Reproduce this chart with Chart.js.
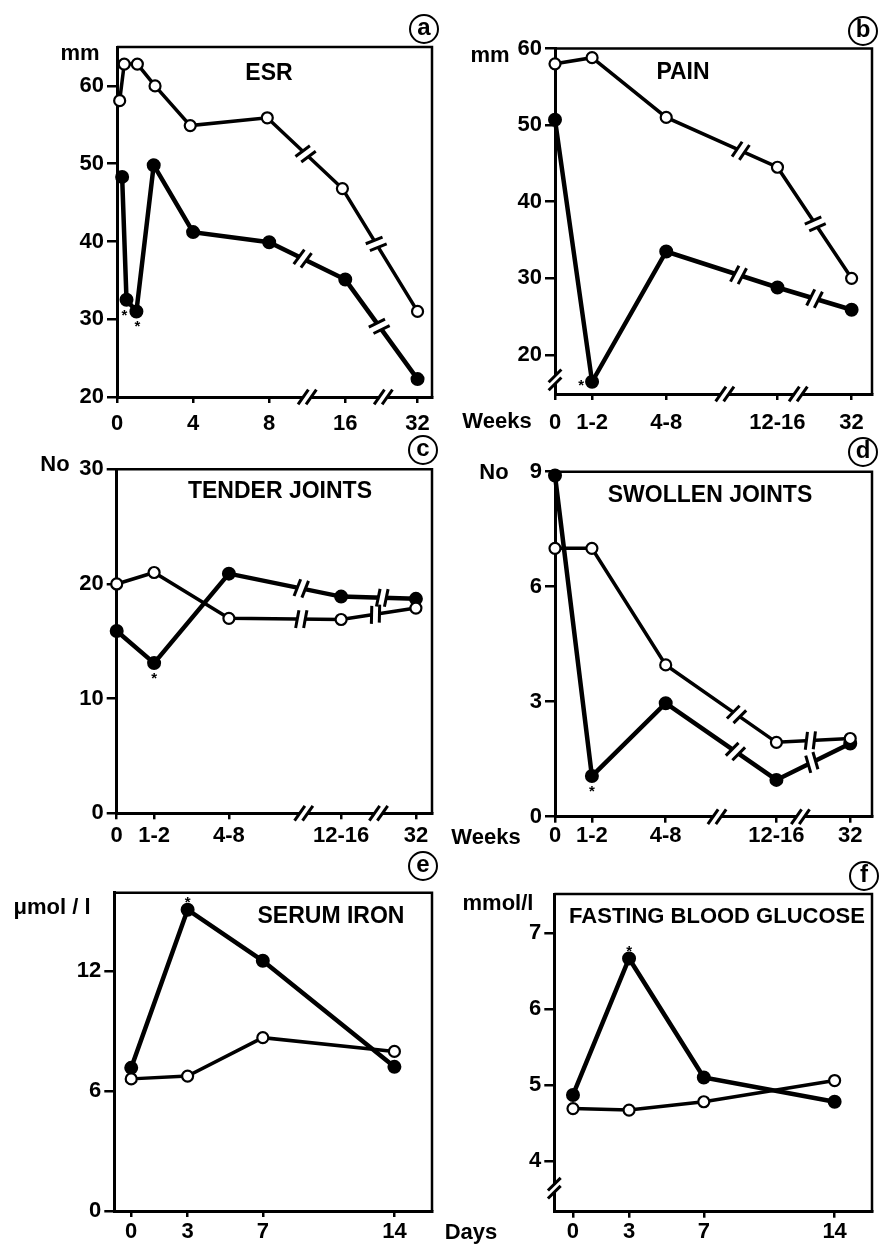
<!DOCTYPE html>
<html>
<head>
<meta charset="utf-8">
<script src="https://cdn.jsdelivr.net/npm/chart.js@4.4.1/dist/chart.umd.min.js"></script>
<style>
  body { margin: 0; background: #fff; width: 880px; height: 1246px; position: relative; overflow: hidden;
         font-family: "Liberation Sans", Arial, sans-serif; font-weight: bold; color: #000; }
  canvas { position: absolute; }
  .t { position: absolute; font-size: 22px; line-height: 22px; white-space: nowrap; transform: translate(-50%, -50%); }
  .h { font-size: 23px; }
  .c { position: absolute; width: 26px; height: 26px; border: 2px solid #000; border-radius: 50%;
       font-size: 24px; line-height: 22px; text-align: center; transform: translate(-50%, -50%); }
</style>
</head>
<body>
<canvas id="a"></canvas><canvas id="b"></canvas>
<canvas id="c"></canvas><canvas id="d"></canvas>
<canvas id="e"></canvas><canvas id="f"></canvas>

<div class="t h" style="left:269px;top:72px">ESR</div>
<div class="t h" style="left:683px;top:71px">PAIN</div>
<div class="t h" style="left:280px;top:490px">TENDER JOINTS</div>
<div class="t h" style="left:710px;top:494px">SWOLLEN JOINTS</div>
<div class="t h" style="left:331px;top:915px">SERUM IRON</div>
<div class="t" style="left:717px;top:916px">FASTING BLOOD GLUCOSE</div>

<div class="t" style="left:80px;top:53px">mm</div>
<div class="t" style="left:490px;top:55px">mm</div>
<div class="t" style="left:55px;top:464px">No</div>
<div class="t" style="left:494px;top:472px">No</div>
<div class="t" style="left:52px;top:907px">μmol / l</div>
<div class="t" style="left:498px;top:903px">mmol/l</div>

<div class="t" style="left:497px;top:421px">Weeks</div>
<div class="t" style="left:486px;top:837px">Weeks</div>
<div class="t" style="left:471px;top:1232px">Days</div>

<div class="c" style="left:424px;top:29px">a</div>
<div class="c" style="left:863px;top:31px">b</div>
<div class="c" style="left:423px;top:450px">c</div>
<div class="c" style="left:863px;top:452px">d</div>
<div class="c" style="left:423px;top:866px">e</div>
<div class="c" style="left:864px;top:876px">f</div>

<script>
// ESR, weeks
const esrWeekTicks = [0, 4, 8, 16, 32];
const esrOpenWeeks = [0.14, 0.38, 1.07, 2, 3.85, 7.9, 15.7, 32];
const esrOpen = [58.1, 62.8, 62.8, 60, 54.9, 55.9, 46.8, 31];
const esrFilledWeeks = [0.27, 0.5, 1.02, 1.93, 4, 8, 16, 32];
const esrFilled = [48.3, 32.5, 31, 49.8, 41.2, 39.9, 35.1, 22.3];
const esrTicks = [20, 30, 40, 50, 60];

// pain / tender / swollen, weeks categories
const weekCats = ['0', '1-2', '4-8', '12-16', '32'];
const painOpen = [58, 58.8, 51, 44.5, 30];
const painFilled = [50.7, 16.5, 33.5, 28.8, 25.9];
const painTicks = [20, 30, 40, 50, 60];
const tenderOpen = [20, 21, 17, 16.9, 17.9];
const tenderFilled = [15.9, 13.1, 20.9, 18.9, 18.7];
const tenderTicks = [0, 10, 20, 30];
const swollenOpen = [7, 7, 3.96, 1.94, 2.04];
const swollenFilled = [8.9, 1.06, 2.96, 0.96, 1.91];
const swollenTicks = [0, 3, 6, 9];

// serum iron / glucose, days
const days = [0, 3, 7, 14];
const ironOpen = [6.6, 6.74, 8.66, 7.97];
const ironFilled = [7.15, 15.05, 12.5, 7.2];
const ironTicks = [0, 6, 12];
const glucoseOpen = [4.69, 4.67, 4.78, 5.06];
const glucoseFilled = [4.87, 6.67, 5.1, 4.78];
const glucoseTicks = [4, 5, 6, 7];

Chart.defaults.font.family = '"Liberation Sans", Arial, sans-serif';
Chart.defaults.font.size = 22;
Chart.defaults.font.weight = 'bold';
Chart.defaults.color = '#000';

// x slots of the broken week axes
const esrSlots = [0, 2, 4, 6, 7.9];
const catSlots = [0, 1, 3, 6, 8];

function weekSlot(w) {
  for (let i = 1; i < esrWeekTicks.length; i++) {
    if (w <= esrWeekTicks[i]) {
      const a = esrWeekTicks[i - 1], b = esrWeekTicks[i];
      return esrSlots[i - 1] + (w - a) / (b - a) * (esrSlots[i] - esrSlots[i - 1]);
    }
  }
  return esrSlots[esrSlots.length - 1];
}

function pts(xs, ys) { return ys.map((y, i) => ({ x: xs[i], y: y })); }

// the "//" break sign: white gap plus two slanted strokes
function breakSign(ctx, x, y, ux, uy, ang, len, gap) {
  ctx.save();
  ctx.strokeStyle = '#fff';
  ctx.lineWidth = 9;
  ctx.beginPath();
  ctx.moveTo(x - ux * gap, y - uy * gap);
  ctx.lineTo(x + ux * gap, y + uy * gap);
  ctx.stroke();
  ctx.strokeStyle = '#000';
  ctx.lineWidth = 3;
  const dx = Math.cos(ang) * len, dy = -Math.sin(ang) * len;
  [-1, 1].forEach(s => {
    const cx = x + ux * gap * s, cy = y + uy * gap * s;
    ctx.beginPath();
    ctx.moveTo(cx - dx, cy - dy);
    ctx.lineTo(cx + dx, cy + dy);
    ctx.stroke();
  });
  ctx.restore();
}

const decor = {
  id: 'decor',
  afterDraw(chart) {
    const ctx = chart.ctx, ca = chart.chartArea, o = chart.options.plugins.decor;
    const xs = chart.scales.x, ys = chart.scales.y;
    // top and right frame
    ctx.save();
    ctx.strokeStyle = '#000';
    ctx.lineWidth = 2.5;
    ctx.beginPath();
    ctx.moveTo(ca.left, ca.top);
    ctx.lineTo(ca.right, ca.top);
    ctx.lineTo(ca.right, ca.bottom);
    ctx.stroke();
    ctx.restore();
    (o.lineBreaks || []).forEach(b => {
      const m = chart.getDatasetMeta(b[0]);
      const p1 = m.data[b[1]], p2 = m.data[b[1] + 1];
      const x = p1.x + (p2.x - p1.x) * b[2], y = p1.y + (p2.y - p1.y) * b[2];
      const d = Math.hypot(p2.x - p1.x, p2.y - p1.y);
      const ux = (p2.x - p1.x) / d, uy = (p2.y - p1.y) / d;
      const th = Math.atan2(-uy, ux);
      breakSign(ctx, x, y, ux, uy, th + 80 * Math.PI / 180, 9, 4);
    });
    (o.xBreaks || []).forEach(v => {
      breakSign(ctx, xs.getPixelForValue(v), ca.bottom, 1, 0, 55 * Math.PI / 180, 9, 4);
    });
    (o.yBreaks || []).forEach(v => {
      breakSign(ctx, ca.left, ys.getPixelForValue(v), 0, 1, 45 * Math.PI / 180, 9, 4);
    });
    ctx.save();
    ctx.fillStyle = '#000';
    ctx.font = 'bold 15px "Liberation Sans", Arial, sans-serif';
    ctx.textAlign = 'center';
    ctx.textBaseline = 'alphabetic';
    (o.stars || []).forEach(s => {
      const p = chart.getDatasetMeta(s[0]).data[s[1]];
      ctx.fillText('*', p.x + s[2], p.y + s[3] + 8.7);
    });
    ctx.restore();
  }
};

function panel(id, cv, box, xc, yc, open, filled, deco) {
  const el = document.getElementById(id);
  el.width = cv[2]; el.height = cv[3];
  el.style.left = cv[0] + 'px'; el.style.top = cv[1] + 'px';
  const YW = 70;
  // the x scale takes all the room under the box, so its labels are not clipped
  const XH = cv[1] + cv[3] - box[3];
  const pad = {
    left: box[0] - cv[0] - YW,
    top: box[1] - cv[1],
    right: cv[0] + cv[2] - box[2],
    bottom: 0
  };
  return new Chart(el, {
    type: 'line',
    data: {
      datasets: [
        { data: open, borderColor: '#000', borderWidth: 3.5, pointRadius: 5.5, pointBorderWidth: 2.2,
          pointBackgroundColor: '#fff', pointBorderColor: '#000', tension: 0, clip: false },
        { data: filled, borderColor: '#000', borderWidth: 4.5, pointRadius: 6, pointBorderWidth: 2,
          pointBackgroundColor: '#000', pointBorderColor: '#000', tension: 0, clip: false }
      ]
    },
    options: {
      responsive: false,
      animation: false,
      events: [],
      layout: { padding: pad },
      plugins: { legend: { display: false }, tooltip: { enabled: false }, decor: deco },
      scales: {
        x: {
          type: 'linear', min: xc.min, max: xc.max,
          afterBuildTicks: s => { s.ticks = xc.ticks.map(v => ({ value: v })); },
          afterFit: s => { s.height = XH; },
          ticks: { callback: (v, i) => xc.labels[i], autoSkip: false, maxRotation: 0, padding: xc.pad },
          grid: { drawOnChartArea: false, color: '#000', lineWidth: 2.5, tickLength: 6 },
          border: { color: '#000', width: 3 }
        },
        y: {
          type: 'linear', min: yc.min, max: yc.max,
          afterBuildTicks: s => { s.ticks = yc.ticks.map(v => ({ value: v })); },
          afterFit: s => { s.width = YW; },
          ticks: { callback: v => String(v), autoSkip: false, padding: 3 },
          grid: { drawOnChartArea: false, color: '#000', lineWidth: 2.5, tickLength: 10 },
          border: { color: '#000', width: 3 }
        }
      }
    },
    plugins: [decor]
  });
}

// a  ESR
panel('a', [0, 0, 440, 434], [117, 47, 438, 397],
  { min: 0, max: 8.28, ticks: esrSlots, labels: esrWeekTicks.map(String), pad: 8 },
  { min: 20, max: 65, ticks: esrTicks },
  pts(esrOpenWeeks.map(weekSlot), esrOpen), pts(esrFilledWeeks.map(weekSlot), esrFilled),
  { lineBreaks: [[0, 5, 0.51], [0, 6, 0.45], [1, 5, 0.44], [1, 6, 0.47]], xBreaks: [5, 7],
    stars: [[1, 1, -2, 12], [1, 2, 1, 11]] });

// b  PAIN
panel('b', [440, 0, 440, 434], [555, 48.5, 878, 394],
  { min: 0, max: 8.55, ticks: catSlots, labels: weekCats, pad: 10 },
  { min: 14.9, max: 60, ticks: painTicks },
  pts(catSlots, painOpen), pts(catSlots, painFilled),
  { lineBreaks: [[0, 2, 0.67], [0, 3, 0.51], [1, 2, 0.65], [1, 3, 0.5]], xBreaks: [4.58, 6.56], yBreaks: [16.75],
    stars: [[1, 1, -11, 0]] });

// c  TENDER JOINTS
panel('c', [0, 434, 440, 416], [116.7, 469.3, 438, 813.3],
  { min: 0, max: 8.43, ticks: catSlots, labels: weekCats, pad: 3 },
  { min: 0, max: 30, ticks: tenderTicks },
  pts(catSlots, tenderOpen), pts(catSlots, tenderFilled),
  { lineBreaks: [[0, 2, 0.645], [0, 3, 0.46], [1, 2, 0.645], [1, 3, 0.55]], xBreaks: [5, 7],
    stars: [[1, 1, 0, 11]] });

// d  SWOLLEN JOINTS
panel('d', [440, 434, 440, 416], [555, 471.7, 877.7, 816.7],
  { min: 0, max: 8.59, ticks: catSlots, labels: weekCats, pad: 0 },
  { min: 0, max: 9, ticks: swollenTicks },
  pts(catSlots, swollenOpen), pts(catSlots, swollenFilled),
  { lineBreaks: [[0, 2, 0.64], [0, 3, 0.46], [1, 2, 0.63], [1, 3, 0.48]], xBreaks: [4.39, 6.65],
    stars: [[1, 1, 0, 11]] });

// e  SERUM IRON
panel('e', [0, 850, 440, 396], [114.3, 892.7, 437.7, 1211],
  { min: -0.9, max: 16, ticks: days, labels: days.map(String), pad: 2 },
  { min: 0, max: 15.9, ticks: ironTicks },
  pts(days, ironOpen), pts(days, ironFilled),
  { stars: [[1, 1, 0, -11]] });

// f  FASTING BLOOD GLUCOSE
panel('f', [440, 850, 440, 396], [554.3, 894, 877.7, 1211.7],
  { min: -1, max: 16, ticks: days, labels: days.map(String), pad: 1 },
  { min: 3.33, max: 7.52, ticks: glucoseTicks },
  pts(days, glucoseOpen), pts(days, glucoseFilled),
  { yBreaks: [3.64], stars: [[1, 1, 0, -11]] });
</script>
</body>
</html>
